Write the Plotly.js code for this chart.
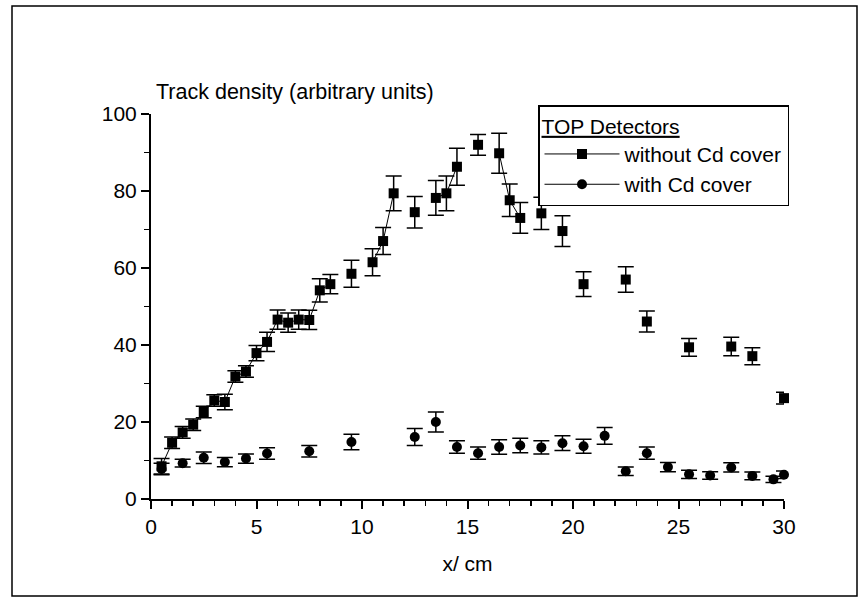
<!DOCTYPE html>
<html>
<head>
<meta charset="utf-8">
<script src="https://cdn.plot.ly/plotly-3.0.1.min.js"></script>
<style>html,body{margin:0;padding:0;background:#fff;}#chart{width:864px;height:598px;}</style>
</head>
<body>
<div id="chart"></div>
<script>
// without Cd cover (squares)
const xNoCd = [0.5,1,1.5,2,2.5,3,3.5,4,4.5,5,5.5,6,6.5,7,7.5,8,8.5,9.5,10.5,11,11.5,12.5,13.5,14,14.5,15.5,16.5,17,17.5,18.5,19.5,20.5,22.5,23.5,25.5,27.5,28.5,30];
const yNoCd = [8.5,14.6,17.3,19.3,22.6,25.6,25.2,31.8,33.1,37.9,40.8,46.6,45.8,46.6,46.5,54.2,55.8,58.5,61.5,67,79.4,74.5,78.2,79.4,86.3,92,89.8,77.6,73,74.2,69.6,55.8,57,46.1,39.4,39.6,37.1,26.2];
const eNoCd = [2,1.5,1.5,1.5,1.5,1.5,2,1.5,1.5,2,2.5,2.5,2.5,2.5,2.5,3,2.5,3.5,3.5,3.5,4.5,4.1,4.5,4.5,4.8,2.7,5.2,4.2,4,4.2,4,3.2,3.3,2.7,2.3,2.4,2.2,1.5];

// with Cd cover (circles)
const xCd = [0.5,1.5,2.5,3.5,4.5,5.5,7.5,9.5,12.5,13.5,14.5,15.5,16.5,17.5,18.5,19.5,20.5,21.5,22.5,23.5,24.5,25.5,26.5,27.5,28.5,29.5,30];
const yCd = [7.8,9.3,10.7,9.6,10.5,11.8,12.4,14.8,16.1,20,13.5,11.9,13.5,13.9,13.4,14.5,13.7,16.4,7.2,11.9,8.3,6.4,6.1,8.2,6,5.1,6.3];
const eCd = [1.5,1,1.5,1.2,1.2,1.5,1.5,2,2.2,2.6,1.6,1.6,1.9,1.9,1.7,1.9,1.8,2.2,1.1,1.6,1.2,1.1,1,1.2,1,0.8,1];

const seriesNames = ['without Cd cover', 'with Cd cover'];
const legendTitle = 'TOP Detectors';
const yTitle = 'Track density (arbitrary units)';
const xTitle = 'x/ cm';

// Line joins only neighbouring measurements (0.5 cm apart); gaps elsewhere.
const lx = [], ly = [], le = [];
for (let i = 0; i < xNoCd.length; i++) {
  if (i > 0 && xNoCd[i] - xNoCd[i-1] > 0.51) { lx.push(null); ly.push(null); le.push(null); }
  lx.push(xNoCd[i]); ly.push(yNoCd[i]); le.push(eNoCd[i]);
}

const FONT = 'Arial, "Liberation Sans", Helvetica, sans-serif';

const traces = [
  {
    x: lx, y: ly, type: 'scatter', mode: 'lines+markers', name: seriesNames[0],
    connectgaps: false, cliponaxis: false,
    line: {color: '#000', width: 1},
    marker: {symbol: 'square', size: 10, color: '#000'},
    error_y: {type: 'data', array: le, visible: true, color: '#000', thickness: 1.5, width: 8},
    legendrank: 1
  },
  {
    x: xCd, y: yCd, type: 'scatter', mode: 'markers', name: seriesNames[1],
    cliponaxis: false,
    marker: {symbol: 'circle', size: 10, color: '#000'},
    error_y: {type: 'data', array: eCd, visible: true, color: '#000', thickness: 1.5, width: 8},
    showlegend: false
  },
  {
    x: [null], y: [null], type: 'scatter', mode: 'lines+markers', name: seriesNames[1],
    line: {color: '#000', width: 1},
    marker: {symbol: 'circle', size: 10, color: '#000'},
    legendrank: 2
  }
];

const W = 864, H = 598;
const L = 151, R = 80, T = 114, B = 99;
const pw = W - L - R, ph = H - T - B;
const px = v => (v - L) / pw;
const py = v => (H - B - v) / ph;

const layout = {
  width: W, height: H,
  margin: {l: L, r: R, t: T, b: B, pad: 0},
  paper_bgcolor: '#fff', plot_bgcolor: '#fff',
  font: {family: FONT, size: 21, color: '#000'},
  showlegend: true,
  xaxis: {
    range: [0, 30], tick0: 0, dtick: 5, showgrid: false, zeroline: false,
    showline: true, linecolor: '#000', linewidth: 2,
    ticks: 'outside', ticklen: 8, tickwidth: 2, tickcolor: '#000',
    minor: {dtick: 1, ticks: 'outside', ticklen: 5, tickwidth: 1.5, tickcolor: '#000', showgrid: false},
    tickfont: {size: 21},
    title: {text: xTitle, font: {size: 21}, standoff: 19},
    fixedrange: true
  },
  yaxis: {
    range: [0, 100], tick0: 0, dtick: 20, showgrid: false, zeroline: false,
    showline: true, linecolor: '#000', linewidth: 2,
    ticks: 'outside', ticklen: 8, tickwidth: 2, tickcolor: '#000',
    minor: {dtick: 10, ticks: 'outside', ticklen: 5, tickwidth: 1.5, tickcolor: '#000', showgrid: false},
    tickfont: {size: 21},
    fixedrange: true
  },
  legend: {
    x: px(538), y: py(105), xanchor: 'left', yanchor: 'top',
    bgcolor: '#fff', bordercolor: '#000', borderwidth: 1.5,
    font: {size: 21}, itemwidth: 75, tracegroupgap: 0,
    title: {text: '<u>' + legendTitle + '</u>', font: {size: 21}}
  },
  annotations: [
    {text: yTitle, xref: 'paper', yref: 'paper', x: px(154), y: py(92),
     xanchor: 'left', yanchor: 'middle', showarrow: false, font: {size: 21.5}}
  ],
  shapes: [
    {type: 'rect', xref: 'paper', yref: 'paper', x0: px(12), x1: px(857), y0: py(596), y1: py(6),
     line: {color: '#000', width: 1.5}, fillcolor: 'rgba(0,0,0,0)', layer: 'below'}
  ]
};

Plotly.newPlot('chart', traces, layout, {displayModeBar: false, staticPlot: true});
</script>
</body>
</html>
